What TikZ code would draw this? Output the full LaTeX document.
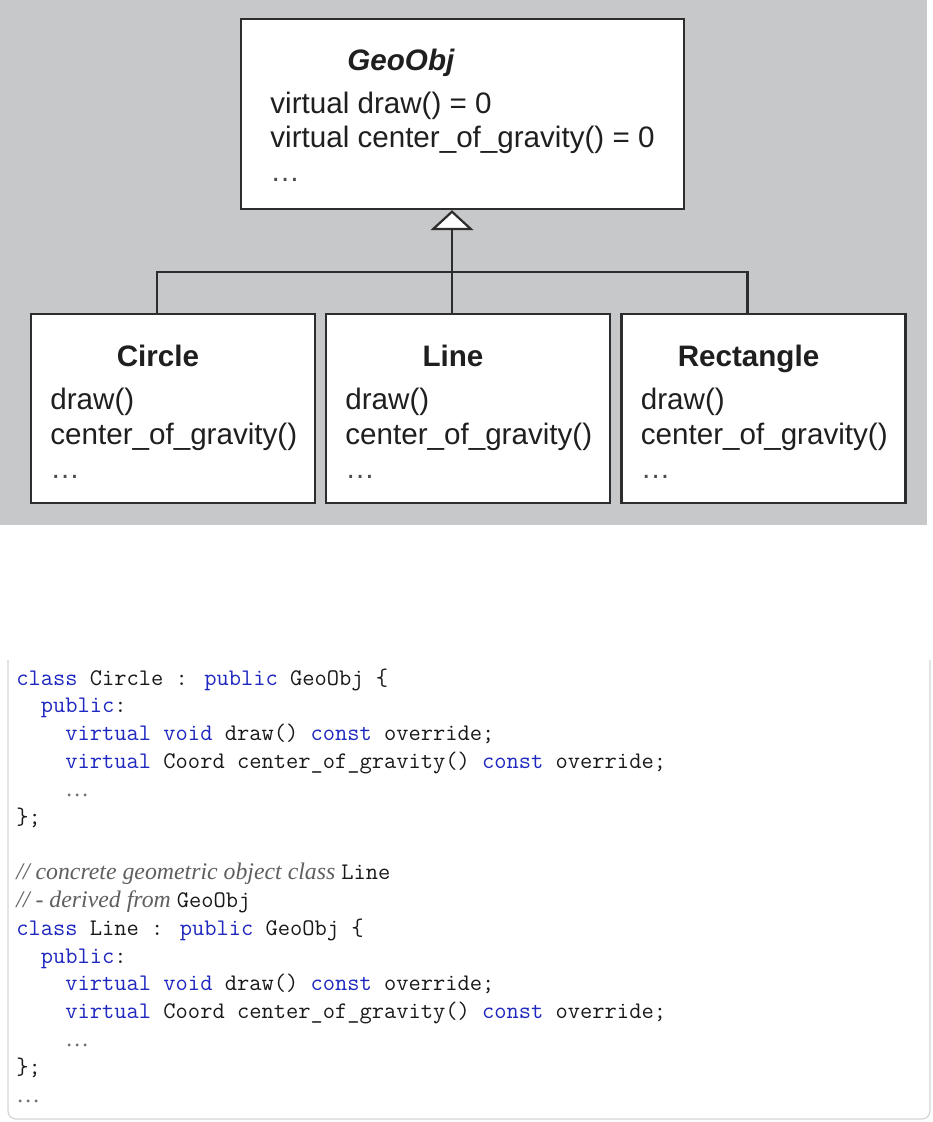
\documentclass[tikz,border=0pt]{standalone}
\usepackage{fontspec}
\setmainfont{Liberation Sans}
\newfontfamily\cmtfont{Liberation Serif}
\usetikzlibrary{arrows.meta, positioning}

\definecolor{panelgray}{RGB}{199,200,202}
\definecolor{kwblue}{RGB}{30,40,190}
\definecolor{umlline}{RGB}{45,45,45}
\definecolor{cmtgray}{RGB}{95,95,95}
\definecolor{framegray}{RGB}{212,212,212}

\newcommand{\kw}[1]{\textcolor{kwblue}{#1}}
\newcommand{\cmt}[1]{{\cmtfont\itshape\color{cmtgray}#1}}
\newcommand{\dotsgray}{{\cmtfont\color{black!55}…}}

\tikzset{
  classbox/.style={draw=umlline, line width=1.2pt, fill=white, minimum width=142pt, minimum height=94.5pt, inner sep=0pt},
  umltext/.style={font=\fontsize{14.8}{17}\selectfont, text=black!88, inner sep=0pt, anchor=base west},
  umltitle/.style={umltext, font=\fontsize{14.8}{17}\selectfont\bfseries},
  conn/.style={draw=umlline, line width=1.1pt},
  codeline/.style={font=\ttfamily\fontsize{11.9}{13.9}\selectfont, text=black!90, inner sep=0pt, anchor=base west}
}

\begin{document}
\begin{tikzpicture}[x=0.5pt, y=-0.5pt]
\useasboundingbox (0,0) rectangle (932,1122);
%gray panel behind the class diagram
\fill[panelgray] (0,0) rectangle (927,525);
%abstract base class
\node[classbox, minimum width=221.5pt, minimum height=95pt] (geoobj) at (462.5,114) {};
\node[umltitle, font=\fontsize{14.8}{17}\selectfont\bfseries\itshape] (geoobj-name) at (347,71) {GeoObj};
\node[umltext] (geoobj-draw) at (270,114) {virtual draw() = 0};
\node[umltext] (geoobj-cog) at (270,148) {virtual center\_of\_gravity() = 0};
\node[umltext, text=black!70] (geoobj-more) at (270,182) {…};
%derived classes
\foreach \name/\title/\cx in {circle/Circle/173, line/Line/468, rectangle/Rectangle/763.5} {
  \node[classbox] (\name) at (\cx,408.5) {};
  \node[umltitle, anchor=base] (\name-name) at (\cx-15,366) {\title};
  \node[umltext] (\name-draw) at (\cx-123,409) {draw()};
  \node[umltext] (\name-cog) at (\cx-123,444) {center\_of\_gravity()};
  \node[umltext, text=black!70] (\name-more) at (\cx-123,478) {…};
}
%inheritance arrow and fork
\coordinate (fork) at (452,272);
\draw[conn] ([xshift=-8pt]circle.north) |- (fork) -| ([xshift=-8pt]rectangle.north);
\draw[conn, -{Triangle[open, fill=white, length=10pt, width=21.5pt]}] (fork |- line.north) -- (fork |- geoobj.south);
%code listing
\draw[framegray, line width=0.6pt, rounded corners=4pt] (8,660) -- (8,1119) -- (930,1119) -- (930,660);
\foreach \src [count=\i] in {
  {\kw{class} Circle : \kw{public} GeoObj \{},
  {~~\kw{public}:},
  {~~~~\kw{virtual} \kw{void} draw() \kw{const} override;},
  {~~~~\kw{virtual} Coord center\_of\_gravity() \kw{const} override;},
  {~~~~\dotsgray},
  {\};},
  {},
  {\cmt{// concrete geometric object class }Line},
  {\cmt{// - derived from }GeoObj},
  {\kw{class} Line : \kw{public} GeoObj \{},
  {~~\kw{public}:},
  {~~~~\kw{virtual} \kw{void} draw() \kw{const} override;},
  {~~~~\kw{virtual} Coord center\_of\_gravity() \kw{const} override;},
  {~~~~\dotsgray},
  {\};},
  {\dotsgray}
} {
  \node[codeline] (code-\i) at (16,{685+(\i-1)*27.8}) {\src};
}
\end{tikzpicture}
\end{document}
